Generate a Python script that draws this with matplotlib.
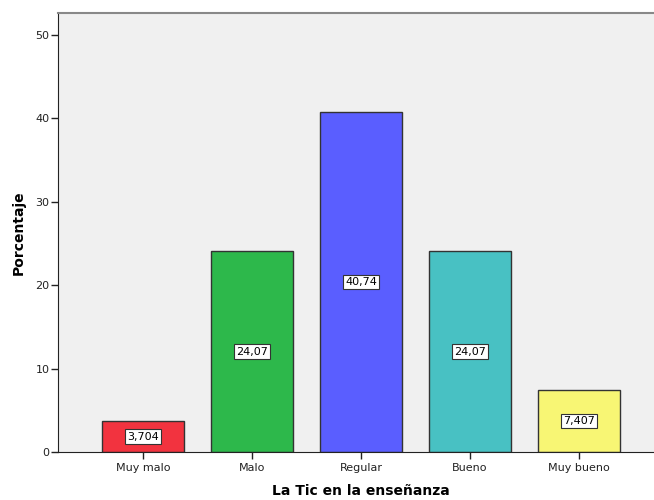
import matplotlib
matplotlib.use("Agg")
import matplotlib.pyplot as plt

categories = ["Muy malo", "Malo", "Regular", "Bueno", "Muy bueno"]
values = [3.704, 24.07, 40.74, 24.07, 7.407]
labels = ["3,704", "24,07", "40,74", "24,07", "7,407"]
colors = ["#f2333f", "#2db84b", "#5a5eff", "#48c1c3", "#f8f674"]
yticks = [0, 10, 20, 30, 40, 50]

W, H = 654, 500
fig = plt.figure(figsize=(W/100, H/100), dpi=100)
left, right, top, bottom = 58, 664, 13, 452
ax = fig.add_axes([left/W, 1 - bottom/H, (right-left)/W, (bottom-top)/H])
ax.set_facecolor("#f0f0f0")

x = list(range(len(categories)))
ax.bar(x, values, width=0.75, color=colors, edgecolor="#333333", linewidth=1.0, zorder=2)
for xi, v, lab in zip(x, values, labels):
    ax.text(xi, v/2, lab, ha="center", va="center", fontsize=8, zorder=3,
            bbox=dict(boxstyle="square,pad=0.2", facecolor="white", edgecolor="#333333", linewidth=0.8))

ax.set_xlim(-0.78, 4.78)
ax.set_ylim(0, 52.6)
ax.set_yticks(yticks)
ax.set_xticks(x)
ax.set_xticklabels(categories, fontsize=8, color="#222222")
ax.tick_params(axis="y", labelsize=8, length=5, width=1, colors="#222222", pad=1)
ax.tick_params(axis="x", length=5, width=1, colors="#222222", pad=3)

ax.spines["right"].set_visible(False)
ax.spines["top"].set_color("#888888")
ax.spines["top"].set_linewidth(1.5)
ax.spines["left"].set_color("#222222")
ax.spines["bottom"].set_color("#222222")

ax.set_xlabel("La Tic en la enseñanza", fontsize=10, fontweight="bold", labelpad=8)
ax.set_ylabel("Porcentaje", fontsize=10, fontweight="bold", labelpad=7)

fig.savefig("out.png", dpi=100)
